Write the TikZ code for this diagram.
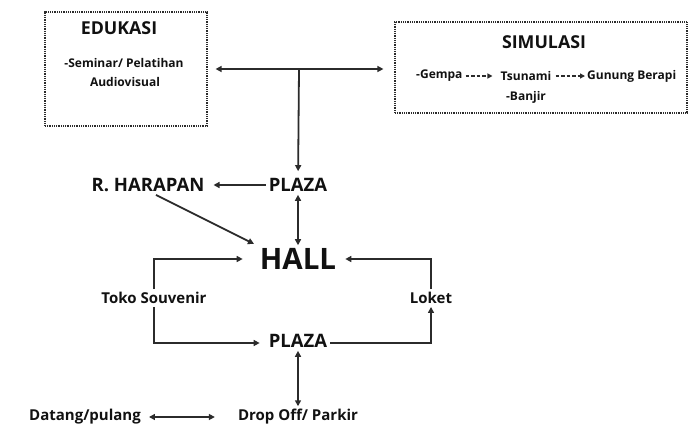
\documentclass[tikz,border=0pt]{standalone}
\usepackage{fontspec}
\setmainfont{Open Sans}
\usepackage{tikz}
\usetikzlibrary{arrows.meta,positioning,calc}
\definecolor{linegray}{HTML}{2B2B2B}
\definecolor{textblack}{HTML}{111111}

\begin{document}
\begin{tikzpicture}[x=1pt, y=-1pt,
  area/.style={draw=linegray, line width=1.2pt, dash pattern=on 1pt off 0.8pt, rectangle, inner sep=0pt},
  title/.style={font=\fontsize{17.8}{20}\selectfont\bfseries, text=textblack, inner sep=2pt},
  item/.style={font=\fontsize{12}{14}\selectfont\bfseries, text=textblack, inner sep=1pt},
  place/.style={font=\fontsize{18.5}{21}\selectfont\bfseries, text=textblack, inner sep=3pt},
  spot/.style={font=\fontsize{15}{18}\selectfont\bfseries, text=textblack, inner sep=3pt},
  arr/.style={-{Triangle[length=6pt, width=6pt]}, line width=1.8pt, linegray},
  darr/.style={{Triangle[length=6pt, width=6pt]}-{Triangle[length=6pt, width=6pt]}, line width=1.8pt, linegray},
  farr/.style={-{Triangle[length=5pt, width=5pt]}, line width=1.5pt, linegray, dash pattern=on 3.5pt off 2pt}
]
  \useasboundingbox (0,0) rectangle (688,434);

  % upper boxes
  \node[area, minimum width=162pt, minimum height=114pt] (edubox) at (126,69) {};
  \node[title] (edutitle) at (119,28) {EDUKASI};
  \node[item] (seminar) at (124,63) {-Seminar/ Pelatihan};
  \node[item] (audio) at (125,82) {Audiovisual};

  \node[area, minimum width=292pt, minimum height=91pt] (simbox) at (541,67.5) {};
  \node[title] (simtitle) at (544,42) {SIMULASI};
  \node[item, anchor=west] (gempa) at (415,76) {-Gempa};
  \node[item] (tsunami) at (526,76) {Tsunami};
  \node[item, anchor=west] (gunung) at (586,76) {Gunung Berapi};
  \node[item] (banjir) at (526,97) {-Banjir};

  % main route
  \node[place] (plazaup) at (298,185) {PLAZA};
  \node[place] (harapan) at (148,185) {R. HARAPAN};
  \node[place, font=\fontsize{29.5}{33}\selectfont\bfseries] (hall) at (298,259) {HALL};
  \node[spot] (toko) at (154,298) {Toko Souvenir};
  \node[spot] (loket) at (431,298) {Loket};
  \node[place] (plazadown) at (298,341) {PLAZA};
  \node[spot] (drop) at (298,417) {Drop Off/ Parkir};
  \node[spot] (datang) at (85,417) {Datang/pulang};

  \coordinate (split) at (299,69);

  \draw[farr, shorten <=2pt, shorten >=7pt] (gempa) -- (tsunami);
  \draw[farr, shorten <=3pt, shorten >=1pt] (tsunami) -- (gunung);

  \draw[arr] (split) -- ([xshift=8pt]edubox.east |- split);
  \draw[arr] (split) -- ([xshift=-11pt]simbox.west |- split);
  \draw[arr, shorten >=4pt] (split) -- (plazaup);
  \draw[arr, shorten >=6pt] (plazaup) -- (harapan);
  \draw[darr] (plazaup) -- (hall);
  \draw[arr, shorten >=3pt] ([xshift=8pt]harapan.south) -- (hall.north west);
  \draw[arr] (toko.north) |- ([xshift=-14pt]hall.west);
  \draw[arr] (toko.south) |- ([xshift=-6pt, yshift=-2pt]plazadown.west);
  \draw[arr] ([yshift=-2pt]plazadown.east) -| (loket.south);
  \draw[arr] (loket.north) |- ([xshift=6pt]hall.east);
  \draw[darr] (plazadown) -- (drop);
  \draw[darr, shorten <=5pt, shorten >=20pt] (datang) -- (drop);
\end{tikzpicture}
\end{document}
